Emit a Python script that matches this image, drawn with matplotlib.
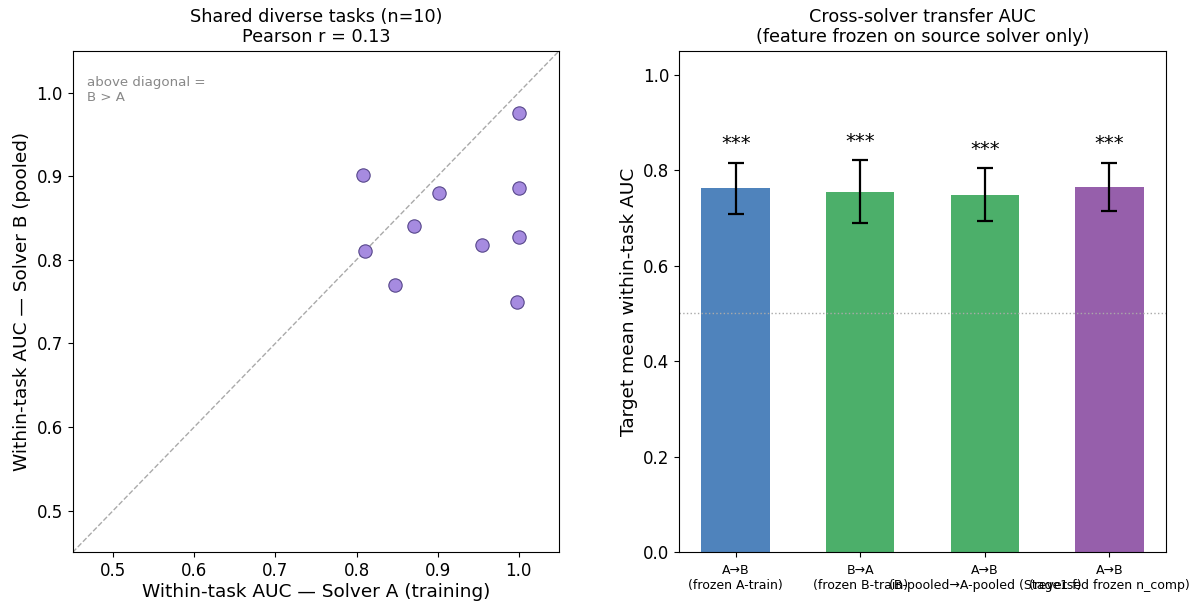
import matplotlib
matplotlib.use("Agg")
import matplotlib.pyplot as plt
import numpy as np

# Per-task within-task AUC for the two solvers
auc_solver_a = [0.808, 0.811, 0.848, 0.871, 0.902, 0.955, 1.000, 1.000, 1.000, 0.998]
auc_solver_b = [0.901, 0.810, 0.770, 0.840, 0.880, 0.818, 0.976, 0.886, 0.827, 0.749]

# Cross-solver transfer results
transfer_labels = [
    "A→B\n(frozen A-train)",
    "B→A\n(frozen B-train)",
    "A→B\n(B-pooled→A-pooled (Stage1 f)",
    "A→B\n(reversed frozen n_comp)",
]
transfer_means = [0.762, 0.755, 0.749, 0.765]
transfer_errs = [0.054, 0.066, 0.055, 0.051]
transfer_sig = ["***", "***", "***", "***"]
transfer_colors = ["#4f83bc", "#4caf6a", "#4caf6a", "#965fab"]

fig = plt.figure(figsize=(12.03, 6.06), dpi=100)
ax1 = fig.add_axes([0.0604, 0.0886, 0.4045, 0.8277])
ax2 = fig.add_axes([0.5647, 0.0886, 0.4043, 0.8277])

# Left: solver A vs solver B scatter
r = np.corrcoef(auc_solver_a, auc_solver_b)[0, 1]
lims = (0.45, 1.05)
ax1.plot(lims, lims, ls="--", color="#aaaaaa", lw=1, zorder=1)
ax1.scatter(auc_solver_a, auc_solver_b, s=92, color="#a68be0",
            edgecolor="#56468a", linewidth=0.8, zorder=3)
ax1.set_xlim(lims)
ax1.set_ylim(lims)
ax1.set_xticks([0.5, 0.6, 0.7, 0.8, 0.9, 1.0])
ax1.set_yticks([0.5, 0.6, 0.7, 0.8, 0.9, 1.0])
ax1.tick_params(labelsize=12)
ax1.set_xlabel("Within-task AUC — Solver A (training)", fontsize=13.3, labelpad=2)
ax1.set_ylabel("Within-task AUC — Solver B (pooled)", fontsize=13.3)
ax1.set_title(f"Shared diverse tasks (n={len(auc_solver_a)})\nPearson r = {r:.2f}",
              fontsize=12.7)
ax1.text(0.03, 0.95, "above diagonal =\nB > A", transform=ax1.transAxes,
         fontsize=9.6, color="#888888", va="top", ha="left")

# Right: transfer bar chart
x = np.arange(len(transfer_means))
ax2.bar(x, transfer_means, width=0.55, color=transfer_colors,
        yerr=transfer_errs, capsize=6,
        error_kw=dict(elinewidth=1.6, capthick=1.6, ecolor="black"))
ax2.axhline(0.5, color="#aaaaaa", ls=":", lw=1)
for xi, m, e, s in zip(x, transfer_means, transfer_errs, transfer_sig):
    ax2.text(xi, m + e + 0.02, s, ha="center", va="bottom", fontsize=14)
ax2.set_ylim(0, 1.05)
ax2.set_xticks(x)
ax2.set_xticklabels(transfer_labels, fontsize=9)
ax2.tick_params(axis="y", labelsize=12)
ax2.tick_params(axis="x", pad=5)
ax2.set_ylabel("Target mean within-task AUC", fontsize=13.3)
ax2.set_title("Cross-solver transfer AUC\n(feature frozen on source solver only)",
              fontsize=12.7)

fig.savefig("out.png", dpi=100)
